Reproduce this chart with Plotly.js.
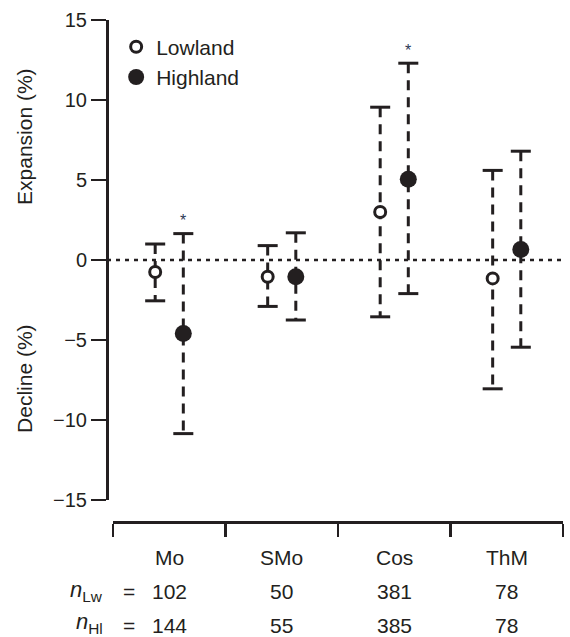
<!DOCTYPE html>
<html>
<head>
<meta charset="utf-8">
<script src="https://cdn.plot.ly/plotly-3.0.1.min.js"></script>
<style>html,body{margin:0;padding:0;background:#fff;}#chart{width:570px;height:637px;}</style>
</head>
<body>
<div id="chart"></div>
<script>
// ---- data ----
const categories = ['Mo', 'SMo', 'Cos', 'ThM'];
const nLowland = [102, 50, 381, 78];
const nHighland = [144, 55, 385, 78];
const lowMean = [-0.75, -1.05, 3.0, -1.15];
const lowUpper = [1.0, 0.9, 9.55, 5.6];
const lowLower = [-2.55, -2.9, -3.55, -8.05];
const highMean = [-4.6, -1.05, 5.05, 0.65];
const highUpper = [1.65, 1.7, 12.3, 6.8];
const highLower = [-10.85, -3.75, -2.1, -5.45];
const highSignificant = [true, false, true, false];
const yTicks = [-15, -10, -5, 0, 5, 10, 15];

// ---- styling ----
const INK = '#231f20';
const FONT = 'Liberation Sans, Arial, Helvetica, sans-serif';
const OFF = 0.125;   // group offset in category units
const CAP = 0.089;   // half cap width in category units

function stemTrace(up, lo, off) {
  const x = [], y = [];
  categories.forEach((c, i) => { x.push(i + off, i + off, null); y.push(up[i], lo[i], null); });
  return {x, y, type: 'scatter', mode: 'lines', showlegend: false, hoverinfo: 'skip',
    line: {color: INK, width: 3, dash: '10px,7px'}};
}
function capTrace(up, lo, off) {
  const x = [], y = [];
  categories.forEach((c, i) => {
    x.push(i + off - CAP, i + off + CAP, null, i + off - CAP, i + off + CAP, null);
    y.push(up[i], up[i], null, lo[i], lo[i], null);
  });
  return {x, y, type: 'scatter', mode: 'lines', showlegend: false, hoverinfo: 'skip',
    line: {color: INK, width: 3}};
}
const xs = categories.map((c, i) => i);

const traces = [
  stemTrace(lowUpper, lowLower, -OFF),
  stemTrace(highUpper, highLower, OFF),
  capTrace(lowUpper, lowLower, -OFF),
  capTrace(highUpper, highLower, OFF),
  {x: xs.map(v => v - OFF), y: lowMean, type: 'scatter', mode: 'markers', name: 'Lowland',
    marker: {symbol: 'circle', size: 11, color: '#ffffff', line: {color: INK, width: 3}}},
  {x: xs.map(v => v + OFF), y: highMean, type: 'scatter', mode: 'markers', name: 'Highland',
    marker: {symbol: 'circle', size: 17, color: INK, line: {color: INK, width: 0}}}
];

const annotations = [];
// y-axis titles
annotations.push({text: 'Expansion (%)', xref: 'paper', yref: 'paper', x: -0.179, y: 0.767,
  xanchor: 'center', yanchor: 'middle',
  textangle: -90, showarrow: false, font: {family: FONT, size: 21, color: INK}});
annotations.push({text: 'Decline (%)', xref: 'paper', yref: 'paper', x: -0.179, y: 0.285,
  xanchor: 'center', yanchor: 'middle',
  textangle: -90, showarrow: false, font: {family: FONT, size: 21, color: INK}});
// significance stars
categories.forEach((c, i) => {
  if (highSignificant[i]) annotations.push({text: '*', x: i + OFF, y: highUpper[i], xref: 'x', yref: 'y',
    yshift: 13, showarrow: false, font: {family: FONT, size: 16, color: '#2b3a55'}});
});
// category labels and n rows
const rowY = [-0.07, -0.1375, -0.207];
categories.forEach((c, i) => {
  annotations.push({text: c, x: i, y: rowY[0], xref: 'x', yref: 'paper', showarrow: false,
    yanchor: 'middle', font: {family: FONT, size: 21, color: INK}});
  annotations.push({text: String(nLowland[i]), x: i, y: rowY[1], xref: 'x', yref: 'paper', showarrow: false,
    yanchor: 'middle', font: {family: FONT, size: 21, color: INK}});
  annotations.push({text: String(nHighland[i]), x: i, y: rowY[2], xref: 'x', yref: 'paper', showarrow: false,
    yanchor: 'middle', font: {family: FONT, size: 21, color: INK}});
});
[['<i>n</i><sub>Lw</sub>', rowY[1], 0], ['<i>n</i><sub>Hl</sub>', rowY[2], 3]].forEach(([t, y, ys]) => {
  annotations.push({text: t, x: -0.004, y: y, xref: 'paper', yref: 'paper', xanchor: 'right',
    yanchor: 'middle', yshift: ys, showarrow: false, font: {family: FONT, size: 22, color: INK}});
  annotations.push({text: '=', x: 0.048, y: y, xref: 'paper', yref: 'paper', xanchor: 'center',
    yanchor: 'middle', showarrow: false, font: {family: FONT, size: 21, color: INK}});
});

const layout = {
  width: 570, height: 637,
  margin: {l: 107, r: 5, t: 20, b: 115},
  paper_bgcolor: '#ffffff', plot_bgcolor: '#ffffff',
  font: {family: FONT, size: 20, color: INK},
  showlegend: true,
  legend: {x: 0.02, y: 0.987, xanchor: 'left', yanchor: 'top', bgcolor: 'rgba(0,0,0,0)',
    itemwidth: 30, font: {family: FONT, size: 21, color: INK}},
  xaxis: {
    range: [-0.5, 3.5], domain: [0.0131, 0.9956], anchor: 'free', position: 0,
    showgrid: false, zeroline: false, showline: true, linecolor: INK, linewidth: 2.5,
    tickmode: 'array', tickvals: [-0.5, 0.5, 1.5, 2.5, 3.5], showticklabels: false,
    ticks: 'outside', ticklen: 13, tickwidth: 2.5, tickcolor: INK, fixedrange: true
  },
  yaxis: {
    range: [-15, 15], domain: [0.0438, 1], anchor: 'free', position: 0,
    showgrid: false, zeroline: false, showline: true, linecolor: INK, linewidth: 2.5,
    tickmode: 'array', tickvals: yTicks,
    ticks: 'outside', ticklen: 15, tickwidth: 2.5, tickcolor: INK,
    tickfont: {family: FONT, size: 20, color: INK}, fixedrange: true
  },
  shapes: [{type: 'line', xref: 'paper', yref: 'y', x0: 0, x1: 1, y0: 0, y1: 0,
    line: {color: INK, width: 2.5, dash: '4px,5px'}, layer: 'below'}],
  annotations: annotations
};

Plotly.newPlot('chart', traces, layout, {displayModeBar: false, staticPlot: true});
</script>
</body>
</html>
